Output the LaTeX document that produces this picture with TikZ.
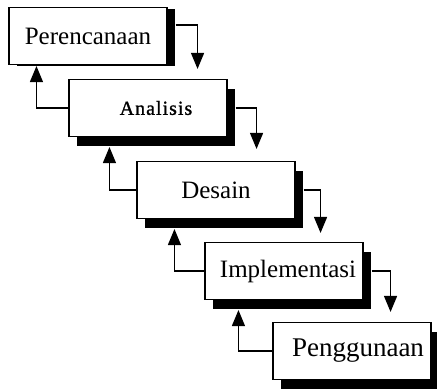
\documentclass[tikz,border=0pt]{standalone}
\usepackage{fontspec}
\setmainfont{Liberation Serif}
\usetikzlibrary{arrows.meta,shadows,calc}

\tikzset{
  tahap/.style={draw, line width=1.1pt, fill=white, inner sep=0pt,
    minimum width=158pt, minimum height=57pt,
    font=\fontsize{25}{30}\selectfont,
    drop shadow={shadow xshift=8pt, shadow yshift=#1, fill=black, opacity=1}},
  tahap/.default=-10pt,
  maju/.style={line width=1.2pt, -{Triangle[width=13pt,length=16pt]}},
  balik/.style={maju}
}

\begin{document}
\begin{tikzpicture}[x=1pt,y=1pt]
\useasboundingbox (0,0) rectangle (437,391);

% tahapan
\node[tahap=-2pt] (perencanaan) at (88,355) {Perencanaan};
\node[tahap, font=\fontsize{20}{22}\selectfont\addfontfeatures{LetterSpace=5,FakeBold=1}] (analisis) at (148,283) {\hspace*{16pt}Analisis};
\node[tahap] (desain) at (216,201) {Desain};
\node[tahap] (implementasi) at (284,120) {\hspace*{8pt}Implementasi};
\node[tahap, font=\fontsize{27}{30}\selectfont] (penggunaan) at (352,40) {\hspace*{12pt}Penggunaan};

% maju
\draw[maju] ([xshift=8pt,yshift=11pt]perencanaan.east) -| ($(perencanaan.east |- analisis.north)+(30,10)$);
\draw[maju] ([xshift=8pt]analisis.east) -| ($(analisis.east |- desain.north)+(29,12)$);
\draw[maju] ([xshift=8pt]desain.east) -| ($(desain.east |- implementasi.north)+(25,9)$);
\draw[maju] ([xshift=8pt]implementasi.east) -| ($(implementasi.east |- penggunaan.north)+(27,10)$);

% balik
\draw[balik] (analisis.west) -| ($(perencanaan.south west)+(28,-1)$);
\draw[balik] (desain.west) -| ($(analisis.south west)+(41,-10)$);
\draw[balik] (implementasi.west) -| ($(desain.south west)+(38,-10)$);
\draw[balik] (penggunaan.west) -| ($(implementasi.south west)+(34,-10)$);
\end{tikzpicture}
\end{document}
